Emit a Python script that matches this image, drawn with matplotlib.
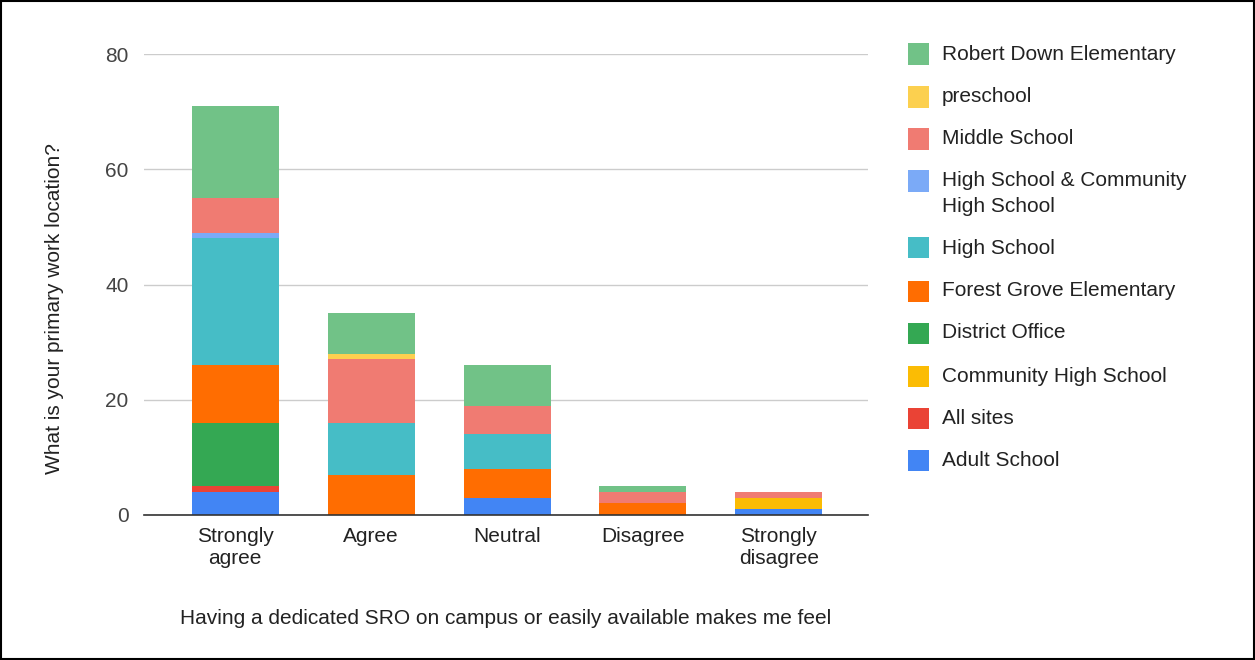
import matplotlib
matplotlib.use("Agg")
import matplotlib.pyplot as plt
from matplotlib.patches import Rectangle
import numpy as np

plt.rcParams['font.family'] = ['Liberation Sans', 'DejaVu Sans']

categories = ["Strongly\nagree", "Agree", "Neutral", "Disagree", "Strongly\ndisagree"]
series_names = ["Adult School", "All sites", "Community High School", "District Office",
                "Forest Grove Elementary", "High School",
                "High School & Community\nHigh School", "Middle School", "preschool",
                "Robert Down Elementary"]
adult_school = [4, 0, 3, 0, 1]
all_sites = [1, 0, 0, 0, 0]
community_hs = [0, 0, 0, 0, 2]
district_office = [11, 0, 0, 0, 0]
forest_grove = [10, 7, 5, 2, 0]
high_school = [22, 9, 6, 0, 0]
hs_and_chs = [1, 0, 0, 0, 0]
middle_school = [6, 11, 5, 2, 1]
preschool = [0, 1, 0, 0, 0]
robert_down = [16, 7, 7, 1, 0]
series_values = [adult_school, all_sites, community_hs, district_office, forest_grove,
                 high_school, hs_and_chs, middle_school, preschool, robert_down]
colors = ["#4285F4", "#EA4335", "#FBBC04", "#34A853", "#FF6D01", "#46BDC6",
          "#7BAAF7", "#F07B72", "#FCD04F", "#71C287"]
yticks = [0, 20, 40, 60, 80]

FS = 15
W, H = 1255, 660
fig = plt.figure(figsize=(W / 100, H / 100), dpi=100)
ax = fig.add_axes([144 / W, 1 - 515 / H, (868 - 144) / W, (515 - 54) / H])

x = np.arange(len(categories))
bottom = np.zeros(len(categories))
for name, vals, c in zip(series_names, series_values, colors):
    v = np.array(vals, dtype=float)
    ax.bar(x, v, bottom=bottom, width=0.64, color=c, label=name, linewidth=0)
    bottom += v

ax.set_xlim(-0.67, 4.655)
ax.set_ylim(0, 80)
ax.set_yticks(yticks)
ax.set_yticklabels([str(t) for t in yticks])
ax.set_xticks(x)
ax.set_xticklabels(categories, fontsize=FS, color="#222222", linespacing=1.2)
ax.tick_params(axis='y', length=0, pad=11, labelsize=FS, labelcolor="#444444")
ax.tick_params(axis='x', length=0, pad=9)
ax.grid(axis='y', color="#cccccc", linewidth=1)
ax.set_axisbelow(True)
for s in ["top", "right", "left"]:
    ax.spines[s].set_visible(False)
ax.spines["bottom"].set_color("#333333")
ax.spines["bottom"].set_linewidth(1.2)

fig.text(506 / W, 1 - 618 / H, "Having a dedicated SRO on campus or easily available makes me feel",
         ha="center", va="center", fontsize=FS, color="#222222")
fig.text(55 / W, 1 - 308 / H, "What is your primary work location?", rotation=90,
         ha="center", va="center", fontsize=FS, color="#222222")

# legend (drawn in reverse stacking order)
ys = [54, 97, 139, 181, 248, 291, 333, 376, 418, 460]
for yy, name, c in zip(ys, series_names[::-1], colors[::-1]):
    fig.patches.append(Rectangle((908 / W, 1 - (yy + 10.5) / H), 21 / W, 21 / H,
                                 transform=fig.transFigure, color=c, linewidth=0))
    lines = name.split("\n")
    for i, ln in enumerate(lines):
        fig.text(942 / W, 1 - (yy + 25 * i) / H, ln, ha="left", va="center",
                 fontsize=FS, color="#222222")

fig.patches.append(Rectangle((0.001, 0.001), 0.998, 0.997, transform=fig.transFigure,
                             fill=False, edgecolor="black", linewidth=1.5))
fig.savefig("out.png", dpi=100)
